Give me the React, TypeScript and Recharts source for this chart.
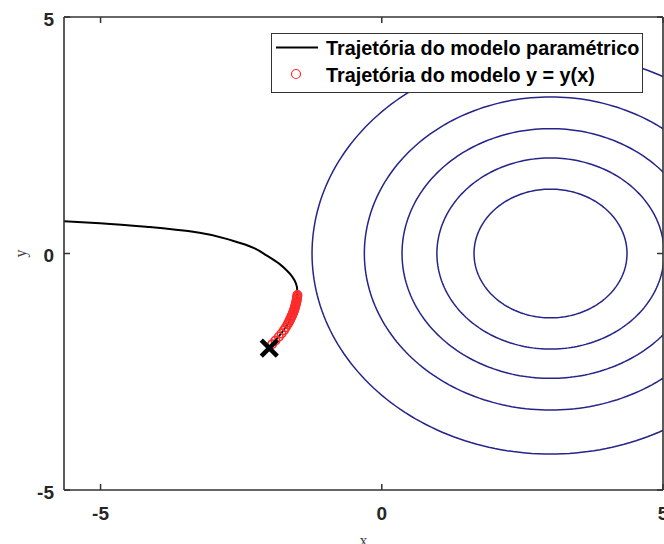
import React from "react";
import {
  ComposedChart,
  Line,
  Scatter,
  XAxis,
  YAxis,
  Legend,
  Label,
} from "recharts";

// Axis setup
const xDomain: [number, number] = [-5.65, 5];
const yDomain: [number, number] = [-5, 5];
const xTicks = [-5, 0, 5];
const yTicks = [-5, 0, 5];

// Level curves of the objective, centred at (3, 0)
const contourCenterX = 3;
const contourCenterY = 0;
const contourRadii = [1.36, 2.02, 2.64, 3.31, 4.24];

// Parametric-model trajectory (black curve)
const paramX = [-2.0, -1.89, -1.77, -1.64, -1.57, -1.52, -1.5, -1.51, -1.55, -1.61, -1.68, -1.82, -2.05, -2.26, -2.65, -3.24, -4.13, -5.01, -5.65];
const paramY = [-2.0, -1.84, -1.66, -1.42, -1.2, -1.0, -0.85, -0.7, -0.57, -0.46, -0.37, -0.22, -0.04, 0.11, 0.27, 0.44, 0.56, 0.64, 0.68];

// y = y(x) model trajectory (red circles)
const modelX = [-1.5, -1.503, -1.507, -1.511, -1.515, -1.521, -1.527, -1.533, -1.54, -1.547, -1.555, -1.563, -1.572, -1.582, -1.593, -1.604, -1.616, -1.628, -1.64, -1.657, -1.675, -1.705, -1.738, -1.782, -1.83, -1.89, -1.95];
const modelY = [-0.88, -0.91, -0.94, -0.97, -1.0, -1.03, -1.06, -1.09, -1.12, -1.15, -1.18, -1.21, -1.24, -1.27, -1.3, -1.33, -1.36, -1.39, -1.42, -1.46, -1.5, -1.56, -1.62, -1.69, -1.76, -1.84, -1.92];

// Starting point
const startX = [-2.0];
const startY = [-2.0];

const legendLabels = ["Trajetória do modelo paramétrico", "Trajetória do modelo y = y(x)"];

const CONTOUR_COLOR = "#24248a";
const RED = "#ff2b2b";
const AXIS_COLOR = "#333333";
const SANS = '"Liberation Sans", Arial, Helvetica, sans-serif';
const SERIF = '"Liberation Serif", "DejaVu Serif", serif';
const TICK_LEN = 6;

const zip = (xs: number[], ys: number[]) => xs.map((x, i) => ({ x, y: ys[i] }));

const contourData = contourRadii.map((r) => {
  const pts: { x: number; y: number }[] = [];
  for (let k = 0; k <= 240; k++) {
    const t = (k / 240) * 2 * Math.PI;
    pts.push({ x: contourCenterX + r * Math.cos(t), y: contourCenterY + r * Math.sin(t) });
  }
  return pts;
});

const paramData = zip(paramX, paramY);
const modelData = zip(modelX, modelY);
const startData = zip(startX, startY);

const tickText = {
  fill: "#262626",
  fontFamily: SANS,
  fontWeight: 700,
  fontSize: 19,
} as const;

const BottomTick = (p: any) => (
  <g>
    <line x1={p.x} x2={p.x} y1={p.y} y2={p.y - TICK_LEN} stroke={AXIS_COLOR} strokeWidth={1.5} />
    <text x={p.x} y={p.y + 30} textAnchor="middle" {...tickText}>
      {p.payload.value}
    </text>
  </g>
);

const TopTick = (p: any) => (
  <line x1={p.x} x2={p.x} y1={p.y} y2={p.y + TICK_LEN} stroke={AXIS_COLOR} strokeWidth={1.5} />
);

const LeftTick = (p: any) => (
  <g>
    <line x1={p.x} x2={p.x + TICK_LEN} y1={p.y} y2={p.y} stroke={AXIS_COLOR} strokeWidth={1.5} />
    <text x={p.x - 10} y={p.y + 2} textAnchor="end" dominantBaseline="central" {...tickText}>
      {p.payload.value}
    </text>
  </g>
);

const RightTick = (p: any) => (
  <line x1={p.x} x2={p.x - TICK_LEN} y1={p.y} y2={p.y} stroke={AXIS_COLOR} strokeWidth={1.5} />
);

const OpenCircle = (p: any) => (
  <circle cx={p.cx} cy={p.cy} r={4.2} fill="none" stroke={RED} strokeWidth={1.6} />
);

const Cross = (p: any) => {
  const s = 8;
  return (
    <g stroke="#000" strokeWidth={4.5} strokeLinecap="butt">
      <line x1={p.cx - s} y1={p.cy - s} x2={p.cx + s} y2={p.cy + s} />
      <line x1={p.cx - s} y1={p.cy + s} x2={p.cx + s} y2={p.cy - s} />
    </g>
  );
};

const LegendBox = () => (
  <div
    style={{
      position: "relative",
      width: 372,
      height: 60,
      boxSizing: "border-box",
      border: `1.5px solid ${AXIS_COLOR}`,
      background: "#fff",
      fontFamily: SANS,
      fontWeight: 700,
      fontSize: 19.8,
      color: "#000",
    }}
  >
    <svg width={370} height={58} style={{ position: "absolute", left: 0, top: 0 }}>
      <line x1={4} x2={46} y1={13.5} y2={13.5} stroke="#000" strokeWidth={2} />
      <circle cx={24} cy={40} r={4.5} fill="none" stroke={RED} strokeWidth={1.2} />
    </svg>
    <div style={{ position: "absolute", left: 54, top: 2, lineHeight: "24px", whiteSpace: "nowrap" }}>
      {legendLabels[0]}
    </div>
    <div style={{ position: "absolute", left: 54, top: 29, lineHeight: "24px", whiteSpace: "nowrap" }}>
      {legendLabels[1]}
    </div>
  </div>
);

const axisLineStyle = { stroke: AXIS_COLOR, strokeWidth: 1.6 };

export default function App() {
  return (
    <div
      style={{
        position: "absolute",
        left: 0,
        top: 0,
        width: 664,
        height: 544,
        overflow: "hidden",
        background: "#fff",
      }}
    >
      <ComposedChart
        width={700}
        height={544}
        margin={{ top: 16, left: 63, right: 36, bottom: 53 }}
      >
        <XAxis
          xAxisId="b"
          dataKey="x"
          type="number"
          domain={xDomain}
          allowDataOverflow
          ticks={xTicks}
          height={1}
          tickSize={0}
          tickMargin={0}
          tickLine={false}
          tick={BottomTick}
          axisLine={axisLineStyle}
          interval={0}
        >
          <Label
            content={(lp: any) => (
              <text
                x={lp.viewBox.x + lp.viewBox.width / 2}
                y={lp.viewBox.y + 56}
                textAnchor="middle"
                fontFamily={SERIF}
                fontSize={16}
                fill="#444"
              >
                x
              </text>
            )}
          />
        </XAxis>
        <XAxis
          xAxisId="t"
          orientation="top"
          dataKey="x"
          type="number"
          domain={xDomain}
          allowDataOverflow
          ticks={xTicks}
          height={1}
          tickSize={0}
          tickMargin={0}
          tickLine={false}
          tick={TopTick}
          axisLine={axisLineStyle}
          interval={0}
        />
        <YAxis
          yAxisId="l"
          dataKey="y"
          type="number"
          domain={yDomain}
          allowDataOverflow
          ticks={yTicks}
          width={1}
          tickSize={0}
          tickMargin={0}
          tickLine={false}
          tick={LeftTick}
          axisLine={axisLineStyle}
          interval={0}
        >
          <Label
            content={(lp: any) => {
              const cx = lp.viewBox.x - 43;
              const cy = lp.viewBox.y + lp.viewBox.height / 2;
              return (
                <text
                  x={cx}
                  y={cy}
                  transform={`rotate(-90 ${cx} ${cy})`}
                  textAnchor="middle"
                  dominantBaseline="central"
                  fontFamily={SERIF}
                  fontSize={16}
                  fill="#444"
                >
                  y
                </text>
              );
            }}
          />
        </YAxis>
        <YAxis
          yAxisId="r"
          orientation="right"
          dataKey="y"
          type="number"
          domain={yDomain}
          allowDataOverflow
          ticks={yTicks}
          width={1}
          tickSize={0}
          tickMargin={0}
          tickLine={false}
          tick={RightTick}
          axisLine={axisLineStyle}
          interval={0}
        />

        {contourData.map((pts, i) => (
          <Line
            key={`c${i}`}
            xAxisId="b"
            yAxisId="l"
            data={pts}
            dataKey="y"
            type="linear"
            stroke={CONTOUR_COLOR}
            strokeWidth={1.5}
            dot={false}
            activeDot={false}
            isAnimationActive={false}
            legendType="none"
          />
        ))}

        <Line
          xAxisId="b"
          yAxisId="l"
          data={paramData}
          dataKey="y"
          name={legendLabels[0]}
          type="monotoneY"
          stroke="#000"
          strokeWidth={2}
          dot={false}
          activeDot={false}
          isAnimationActive={false}
        />

        <Scatter
          xAxisId="b"
          yAxisId="l"
          data={modelData}
          dataKey="y"
          name={legendLabels[1]}
          shape={OpenCircle}
          isAnimationActive={false}
        />

        <Scatter
          xAxisId="b"
          yAxisId="l"
          data={startData}
          dataKey="y"
          shape={Cross}
          legendType="none"
          isAnimationActive={false}
        />

        <Legend
          layout="horizontal"
          verticalAlign="middle"
          align="center"
          content={() => <LegendBox />}
          wrapperStyle={{ position: "absolute", left: 271, top: 33, width: "auto", height: "auto", margin: 0 }}
        />
      </ComposedChart>
    </div>
  );
}
